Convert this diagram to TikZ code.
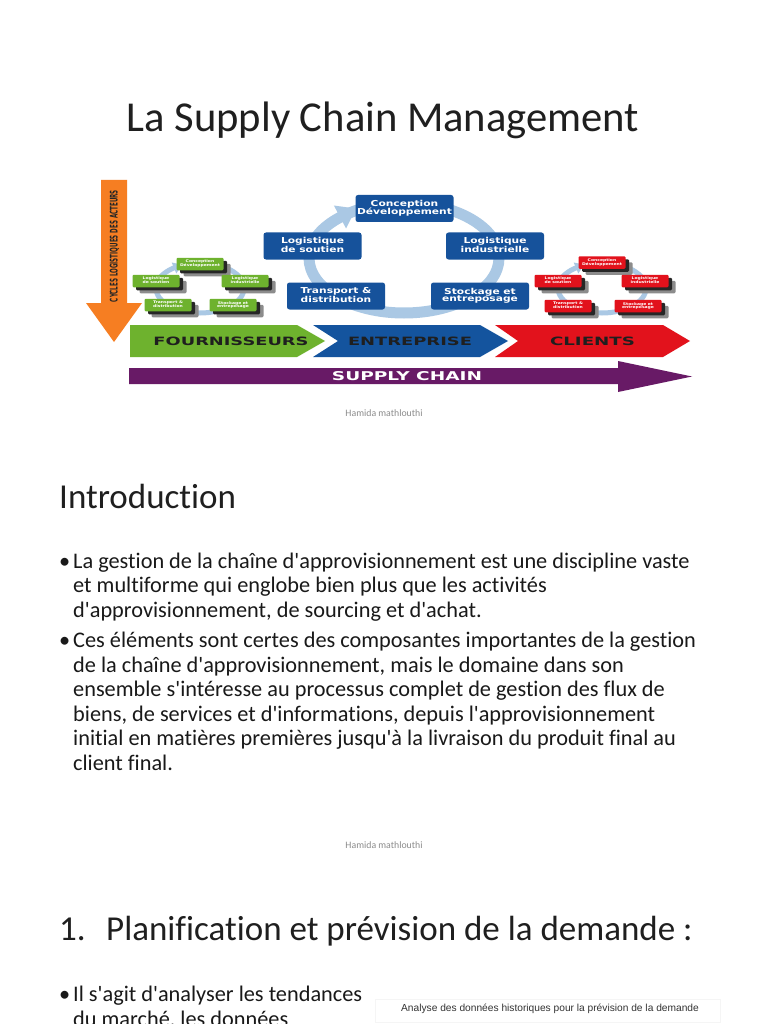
\documentclass[tikz,border=0pt]{standalone}
\usepackage{fontspec}
\setmainfont{Carlito}[Ligatures={TeXOff,CommonOff}]
\newfontfamily\dvs{DejaVu Sans}
\newfontfamily\arialf{Liberation Sans}
\usetikzlibrary{shadows}
\definecolor{bluebox}{RGB}{22,82,155}
\definecolor{ringblue}{RGB}{170,200,228}
\definecolor{grn}{RGB}{110,178,46}
\definecolor{rd}{RGB}{226,18,28}
\definecolor{purp}{RGB}{104,26,102}
\definecolor{orng}{RGB}{246,126,34}
\definecolor{banblue}{RGB}{20,84,158}
\newcommand\bigtwo[2]{\scalebox{1.3}[1]{\begin{tabular}{@{}c@{}}#1\\#2\end{tabular}}}
\newcommand\smalltwo[2]{\scalebox{1.25}[1]{\begin{tabular}{@{}c@{}}#1\\#2\end{tabular}}}
\begin{document}
\begin{tikzpicture}[x=1pt,y=-1pt,
  bigbox/.style={fill=bluebox, rounded corners=2.5pt, minimum width=98pt, minimum height=27pt, inner sep=0pt, text=white, font=\dvs\bfseries\fontsize{8.2}{7.2}\selectfont},
  smallbox/.style={rounded corners=1.2pt, minimum width=47pt, minimum height=12.5pt, inner sep=0pt, text=white, font=\dvs\bfseries\fontsize{3.6}{3.4}\selectfont,
     general shadow={shadow xshift=7pt, shadow yshift=-6pt, fill=black!45},
     general shadow={shadow xshift=3.5pt, shadow yshift=-3pt, fill=black!85}},
  greenbox/.style={smallbox, fill=grn},
  redbox/.style={smallbox, fill=rd},
  ring/.style={draw=ringblue, line width=11pt},
  smallring/.style={draw=ringblue, line width=5pt},
  bantext/.style={font=\dvs\bfseries, text=black!88, inner sep=0pt},
  heading/.style={anchor=base west, inner sep=0pt, font=\fontsize{35}{42}\selectfont, text=black!88},
  slidetext/.style={anchor=base west, inner sep=0pt, font=\fontsize{22.3}{26}\selectfont, text=black!90},
  footer/.style={inner sep=0pt, font=\fontsize{9.8}{11}\selectfont, text=black!45}]
\useasboundingbox (0,0) rectangle (768,1024);
\fill[white] (0,0) rectangle (768,1024);
\clip (0,0) rectangle (768,1024);

% ---------- slide 1 ----------
\node[anchor=base, inner sep=0pt, font=\fontsize{42.6}{50}\selectfont, text=black!88] (title) at (383,132) {La Supply Chain Management};

% orange arrow
\fill[orng] (101,180) -- (127,180) -- (127,303) -- (142,303) -- (114,342) -- (86,303) -- (101,303) -- cycle;
\node[rotate=90, font=\dvs\bfseries, text=black!85, inner sep=0pt] (cyc) at (114.5,246) {\resizebox{112pt}{7.8pt}{CYCLES LOGISTIQUES DES ACTEURS}};

% big cycle
\draw[ring] (404,258) ellipse [x radius=95, y radius=55];
\fill[ringblue] (333.9,205.5) -- (355.9,208.6) -- (346.1,228.5) -- cycle;
\node[bigbox] (bC) at (404.5,208.5) {\bigtwo{Conception}{Développement}};
\node[bigbox] (bLS) at (312.5,246) {\bigtwo{Logistique}{de soutien}};
\node[bigbox] (bLI) at (495,246) {\bigtwo{Logistique}{industrielle}};
\node[bigbox] (bT) at (336,296) {\bigtwo{Transport \&}{distribution}};
\node[bigbox] (bS) at (480,296) {\bigtwo{Stockage et}{entreposage}};

% green cycle
\draw[smallring] (200,288) ellipse [x radius=44, y radius=25];
\fill[ringblue] (171.7,262.5) -- (182.3,264.6) -- (176.3,273.5) -- cycle;
\node[greenbox] (gC) at (200,264) {\smalltwo{Conception}{Développement}};
\node[greenbox] (gLS) at (156,281) {\smalltwo{Logistique}{de soutien}};
\node[greenbox] (gLI) at (245,281) {\smalltwo{Logistique}{industrielle}};
\node[greenbox] (gT) at (168,305) {\smalltwo{Transport \&}{distribution}};
\node[greenbox] (gS) at (233,305) {\smalltwo{Stockage et}{entreposage}};

% red cycle
\draw[smallring] (602,288) ellipse [x radius=44, y radius=25];
\fill[ringblue] (573.7,262.5) -- (584.3,264.6) -- (578.3,273.5) -- cycle;
\node[redbox] (rC) at (602,262.5) {\smalltwo{Conception}{Développement}};
\node[redbox] (rLS) at (558,281) {\smalltwo{Logistique}{de soutien}};
\node[redbox] (rLI) at (645,281) {\smalltwo{Logistique}{industrielle}};
\node[redbox] (rT) at (568,306) {\smalltwo{Transport \&}{distribution}};
\node[redbox] (rS) at (638,306) {\smalltwo{Stockage et}{entreposage}};

% banners
\fill[grn] (130,325) -- (297,325) -- (325,341) -- (297,357) -- (130,357) -- cycle;
\fill[banblue] (313,325) -- (480,325) -- (508,341) -- (480,357) -- (313,357) -- (338,341) -- cycle;
\fill[rd] (495,325) -- (663,325) -- (690,341) -- (663,357) -- (495,357) -- (518,341) -- cycle;
\node[bantext] (fourn) at (231,341) {\resizebox{155pt}{8.5pt}{FOURNISSEURS}};
\node[bantext] (entr) at (410,341) {\resizebox{124pt}{8.5pt}{ENTREPRISE}};
\node[bantext] (cli) at (592.5,341) {\resizebox{85pt}{8.5pt}{CLIENTS}};

% supply chain arrow
\fill[purp] (129,368) -- (618,368) -- (618,361) -- (692,376.5) -- (618,392) -- (618,384) -- (129,384) -- cycle;
\node[bantext, text=white] (sc) at (407,376) {\resizebox{150pt}{9pt}{SUPPLY CHAIN}};

\node[footer] (foot1) at (384,413) {Hamida mathlouthi};

% ---------- slide 2 ----------
\node[heading] (intro) at (59,508) {Introduction};
\node[slidetext] (b1) at (59,568) {•};
\node[slidetext] (l1) at (73,568) {La gestion de la chaîne d'approvisionnement est une discipline vaste};
\node[slidetext] (l2) at (73,592.5) {et multiforme qui englobe bien plus que les activités};
\node[slidetext] (l3) at (73,617) {d'approvisionnement, de sourcing et d'achat.};
\node[slidetext] (b2) at (59,647.5) {•};
\node[slidetext] (l4) at (73,647.5) {Ces éléments sont certes des composantes importantes de la gestion};
\node[slidetext] (l5) at (73,672) {de la chaîne d'approvisionnement, mais le domaine dans son};
\node[slidetext] (l6) at (73,696.5) {ensemble s'intéresse au processus complet de gestion des flux de};
\node[slidetext] (l7) at (73,721) {biens, de services et d'informations, depuis l'approvisionnement};
\node[slidetext] (l8) at (73,745.5) {initial en matières premières jusqu'à la livraison du produit final au};
\node[slidetext] (l9) at (73,770) {client final.};
\node[footer] (foot2) at (384,845) {Hamida mathlouthi};

% ---------- slide 3 ----------
\node[heading] (num) at (59,940) {1.};
\node[heading] (plan) at (106,940) {Planification et prévision de la demande :};
\node[slidetext] (b3) at (59,1001) {•};
\node[slidetext] (l10) at (73,1001) {Il s'agit d'analyser les tendances};
\node[slidetext] (l11) at (73,1026) {du marché, les données};
\draw[black!4] (375,999) rectangle (720,1022);
\node[inner sep=0pt, font=\arialf\fontsize{10.2}{12}\selectfont, text=black!80] (cap) at (550,1009) {Analyse des données historiques pour la prévision de la demande};
\end{tikzpicture}
\end{document}
